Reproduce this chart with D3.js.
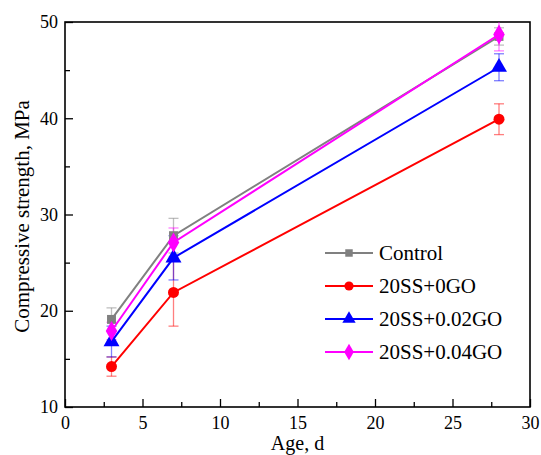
<!DOCTYPE html>
<html>
<head>
<meta charset="utf-8">
<script src="https://cdn.jsdelivr.net/npm/d3@7"></script>
<style>
  body { margin: 0; background: #fff; }
</style>
</head>
<body>
<div id="chart"></div>
<script>
// data
var ages = [3, 7, 28];
var seriesNames = ["Control", "20SS+0GO", "20SS+0.02GO", "20SS+0.04GO"];
var controlVals = [19.1, 27.8, 48.5];
var controlErr = [1.2, 1.8, 0.9];
var ss0Vals = [14.2, 21.9, 39.9];
var ss0Err = [1.0, 3.5, 1.6];
var ss002Vals = [16.8, 25.5, 45.3];
var ss002Err = [1.6, 2.3, 1.4];
var ss004Vals = [17.9, 27.1, 48.7];
var ss004Err = [0.9, 1.5, 1.7];
var xTicks = [0, 5, 10, 15, 20, 25, 30];
var yTicks = [10, 20, 30, 40, 50];

var serif = "'Liberation Serif', 'Times New Roman', 'DejaVu Serif', serif";
var colors = ["#808080", "#ff0000", "#0000ff", "#ff00ff"];
var symbols = [d3.symbolSquare, d3.symbolCircle, d3.symbolTriangle, d3.symbolDiamond];
var symSizes = [80, 95, 110, 115];

var series = [
  { vals: controlVals, err: controlErr },
  { vals: ss0Vals, err: ss0Err },
  { vals: ss002Vals, err: ss002Err },
  { vals: ss004Vals, err: ss004Err }
];

var width = 541, height = 455;
var margin = { top: 22, right: 11, bottom: 48, left: 65 };
var innerW = width - margin.left - margin.right;
var innerH = height - margin.top - margin.bottom;

var svg = d3.select("#chart").append("svg").attr("width", width).attr("height", height)
  .attr("font-family", serif);
var g = svg.append("g").attr("transform", "translate(" + margin.left + "," + margin.top + ")");

var x = d3.scaleLinear().domain([0, 30]).range([0, innerW]);
var y = d3.scaleLinear().domain([10, 50]).range([innerH, 0]);

g.append("clipPath").attr("id", "plotclip").append("rect")
  .attr("width", innerW).attr("height", innerH);

// axes with inward ticks
var xAxis = d3.axisBottom(x).tickValues(xTicks).tickSizeInner(-8).tickSizeOuter(0).tickPadding(11);
var xMinor = d3.axisBottom(x).tickValues([2.5, 7.5, 12.5, 17.5, 22.5, 27.5]).tickSizeInner(-5).tickSizeOuter(0).tickFormat("");
var yAxis = d3.axisLeft(y).tickValues(yTicks).tickSizeInner(-8).tickSizeOuter(0).tickPadding(7);
var yMinor = d3.axisLeft(y).tickValues([15, 25, 35, 45]).tickSizeInner(-5).tickSizeOuter(0).tickFormat("");

var gx = g.append("g").attr("transform", "translate(0," + innerH + ")").call(xAxis);
g.append("g").attr("transform", "translate(0," + innerH + ")").call(xMinor);
var gy = g.append("g").call(yAxis);
g.append("g").call(yMinor);

g.selectAll("g").attr("font-family", serif);
g.selectAll(".tick line").attr("stroke", "#000").attr("stroke-width", 1.3);
g.selectAll(".domain").remove();
gx.selectAll("text").style("font-size", "18px").attr("y", 9).attr("fill", "#000");
gy.selectAll("text").style("font-size", "18px").attr("fill", "#000");

// frame
g.append("rect").attr("width", innerW).attr("height", innerH)
  .attr("fill", "none").attr("stroke", "#000").attr("stroke-width", 1.6);

var plot = g.append("g").attr("clip-path", "url(#plotclip)");

var line = d3.line().x(function(d, i) { return x(ages[i]); }).y(function(d) { return y(d); });

// error bars first, semi-transparent
series.forEach(function(s, k) {
  var eb = plot.append("g").attr("stroke", colors[k]).attr("stroke-opacity", 0.5).attr("stroke-width", 1.3);
  s.vals.forEach(function(v, i) {
    var cx = x(ages[i]);
    eb.append("line").attr("x1", cx).attr("x2", cx).attr("y1", y(v - s.err[i])).attr("y2", y(v + s.err[i]));
    eb.append("line").attr("x1", cx - 5).attr("x2", cx + 5).attr("y1", y(v - s.err[i])).attr("y2", y(v - s.err[i]));
    eb.append("line").attr("x1", cx - 5).attr("x2", cx + 5).attr("y1", y(v + s.err[i])).attr("y2", y(v + s.err[i]));
  });
});

series.forEach(function(s, k) {
  plot.append("path").datum(s.vals).attr("d", line)
    .attr("fill", "none").attr("stroke", colors[k]).attr("stroke-width", 2);
  plot.selectAll(".m" + k).data(s.vals).enter().append("path")
    .attr("transform", function(d, i) { return "translate(" + x(ages[i]) + "," + y(d) + ")"; })
    .attr("d", d3.symbol().type(symbols[k]).size(symSizes[k]))
    .attr("fill", colors[k]);
});

// legend
var legend = svg.append("g").attr("transform", "translate(325,253)");
seriesNames.forEach(function(name, k) {
  var row = legend.append("g").attr("transform", "translate(0," + (k * 33) + ")");
  row.append("line").attr("x1", 0).attr("x2", 48).attr("stroke", colors[k]).attr("stroke-width", 2);
  row.append("path").attr("transform", "translate(24,0)")
    .attr("d", d3.symbol().type(symbols[k]).size(symSizes[k] * 0.7)).attr("fill", colors[k]);
  row.append("text").attr("x", 54).attr("dy", "0.35em").attr("font-family", serif)
    .style("font-size", "21px").text(name);
});

// axis titles
svg.append("text").attr("x", margin.left + innerW / 2).attr("y", 450).attr("font-family", serif)
  .attr("text-anchor", "middle").style("font-size", "20px").text("Age, d");
svg.append("text").attr("transform", "translate(29," + (margin.top + innerH / 2 + 2) + ") rotate(-90)")
  .attr("font-family", serif)
  .attr("text-anchor", "middle").style("font-size", "21px").text("Compressive strength, MPa");
</script>
</body>
</html>
